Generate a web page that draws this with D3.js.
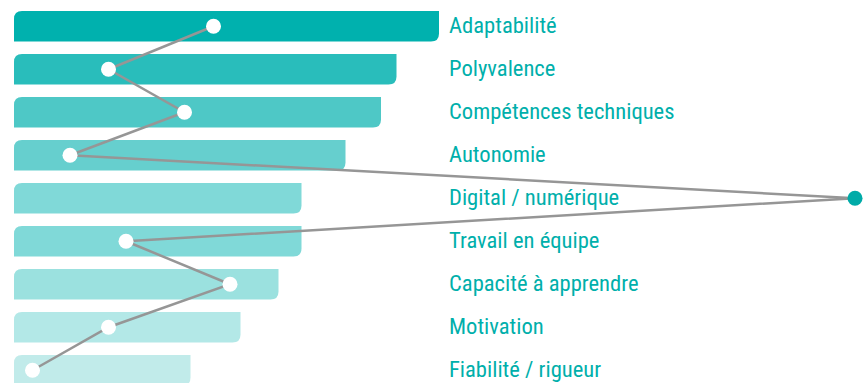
<!DOCTYPE html>
<html>
<head>
<meta charset="utf-8">
<script src="https://cdn.jsdelivr.net/npm/d3@7"></script>
<style>
  html, body { margin: 0; padding: 0; background: #fff; }
  svg { display: block; }
</style>
</head>
<body>
<div id="chart"></div>
<script>

// data
var skills = ["Adaptabilité", "Polyvalence", "Compétences techniques", "Autonomie",
    "Digital / numérique", "Travail en équipe", "Capacité à apprendre", "Motivation",
    "Fiabilité / rigueur"];
var barValues = [85, 76.5, 73.4, 66.3, 57.5, 57.5, 52.9, 45.3, 35.3];
var dotValues = [39.9, 18.9, 34.1, 11.2, 168.2, 22.4, 43.2, 18.9, 3.7];
var barColors = ["#00b1ae", "#29bdbb", "#4ec8c6", "#66cfce", "#80d9d8", "#80d9d8",
    "#9be1df", "#b3e8e7", "#c1ebea"];

var cfg = {
    width: 863,
    height: 383,
    left: 14,
    top: 11,
    step: 43,
    barHeight: 30.5,
    radius: 8,
    labelX: 449
};

var svg = d3.select("#chart")
    .append("svg")
    .attr("width", cfg.width)
    .attr("height", cfg.height);

var x = d3.scaleLinear()
    .domain([0, 100])
    .range([cfg.left, cfg.left + 500]);

var gap = cfg.step - cfg.barHeight;

var y = d3.scaleBand()
    .domain(skills)
    .range([cfg.top, cfg.top + cfg.step * skills.length - gap])
    .paddingInner(gap / cfg.step)
    .paddingOuter(0);

// bar with rounded top-left and bottom-right corners
var leaf = function(x0, x1, y0, h, r){
    return "M" + x0 + "," + (y0 + h) +
        "V" + (y0 + r) +
        "Q" + x0 + "," + y0 + " " + (x0 + r) + "," + y0 +
        "H" + x1 +
        "V" + (y0 + h - r) +
        "Q" + x1 + "," + (y0 + h) + " " + (x1 - r) + "," + (y0 + h) +
        "Z";
};

svg.append("g")
    .selectAll("path")
    .data(skills)
    .join("path")
    .attr("d", function(d, i){
        return leaf(x(0), x(barValues[i]), y(d), y.bandwidth(), cfg.radius);
    })
    .style("fill", function(d, i){ return barColors[i]; });

svg.append("g")
    .selectAll("text")
    .data(skills)
    .join("text")
    .attr("x", cfg.labelX)
    .attr("y", function(d){ return y(d) + y.bandwidth() / 2; })
    .attr("dy", "0.32em")
    .style("font-family", "'Liberation Sans Narrow', 'Roboto Condensed', 'DejaVu Sans Condensed', sans-serif")
    .style("font-size", "22.6px")
    .style("fill", "#00afab")
    .text(function(d){ return d; });

var line = d3.line()
    .x(function(d, i){ return x(dotValues[i]); })
    .y(function(d){ return y(d) + y.bandwidth() / 2; });

svg.append("path")
    .datum(skills)
    .attr("d", line)
    .style("fill", "none")
    .style("stroke", "#969696")
    .style("stroke-width", 2.5);

svg.append("g")
    .selectAll("circle")
    .data(skills)
    .join("circle")
    .attr("cx", function(d, i){ return x(dotValues[i]); })
    .attr("cy", function(d){ return y(d) + y.bandwidth() / 2; })
    .attr("r", 7.5)
    .style("fill", function(d, i){ return dotValues[i] > 100 ? "#00aba8" : "white"; });

</script>
</body>
</html>
